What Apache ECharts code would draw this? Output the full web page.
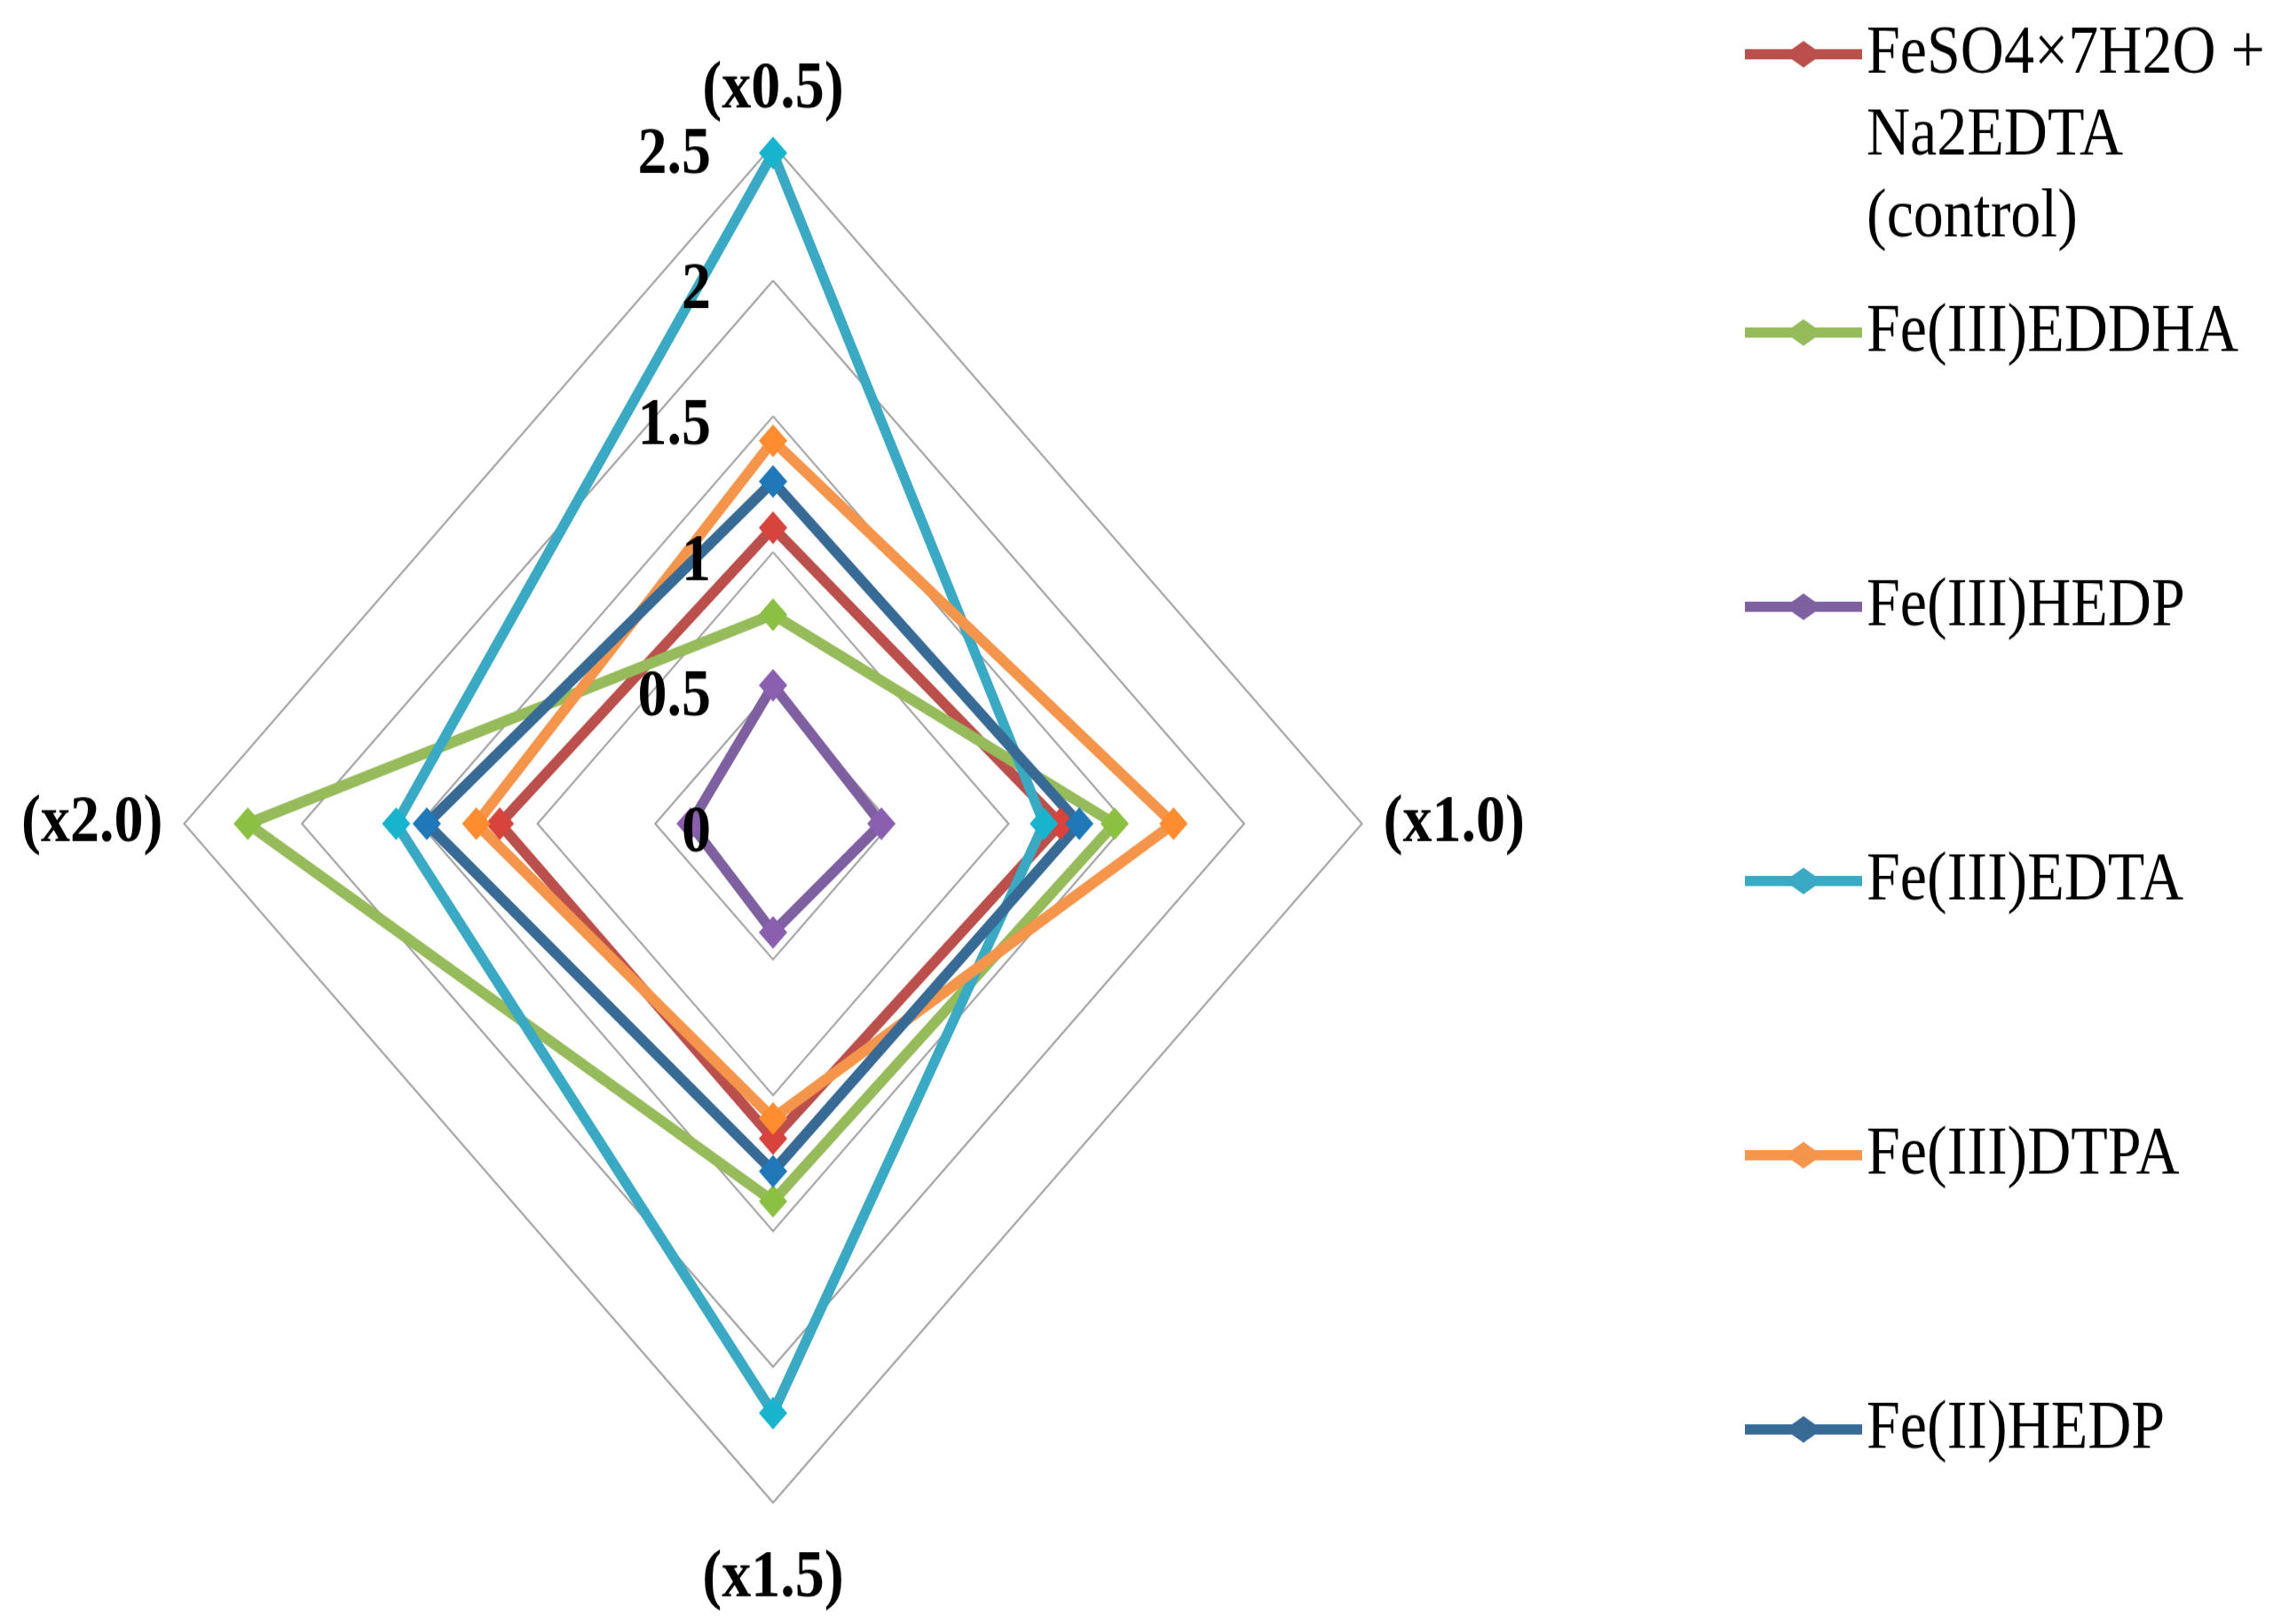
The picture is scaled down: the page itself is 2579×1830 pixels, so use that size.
<!DOCTYPE html>
<html>
<head>
<meta charset="utf-8">
<script src="https://cdn.jsdelivr.net/npm/echarts@6/dist/echarts.min.js"></script>
<style>
  html, body { margin: 0; padding: 0; background: #fff; }
  body { width: 2579px; height: 1830px; overflow: hidden; }
  /* the original picture is stretched vertically, so the chart is drawn flat and scaled */
  #main { width: 2579px; height: 1587px; transform: scaleY(1.153); transform-origin: 0 0; }
</style>
</head>
<body>
<div id="main"></div>
<script>
var categories = ['(x0.5)', '(x1.0)', '(x1.5)', '(x2.0)'];
var axisMax = 2.5;

var seriesNames = [
  'FeSO4×7H2O +\nNa2EDTA\n(control)',
  'Fe(III)EDDHA',
  'Fe(III)HEDP',
  'Fe(III)EDTA',
  'Fe(III)DTPA',
  'Fe(II)HEDP'
];

var controlValues = [1.09, 1.22, 1.16, 1.16];
var eddhaValues   = [0.77, 1.45, 1.39, 2.23];
var hedp3Values   = [0.51, 0.46, 0.40, 0.35];
var edtaValues    = [2.47, 1.15, 2.17, 1.60];
var dtpaValues    = [1.41, 1.70, 1.085, 1.26];
var hedp2Values   = [1.26, 1.30, 1.28, 1.47];

var allValues = [controlValues, eddhaValues, hedp3Values, edtaValues, dtpaValues, hedp2Values];

var lineColors   = ['#bb4f4c', '#96bb5b', '#7e60a1', '#3aa9c3', '#f4954b', '#386a96'];
var markerColors = ['#d8433d', '#8cc043', '#8a5fb0', '#18b3cd', '#ff8c2e', '#1f78b8'];

var serif = '"Liberation Serif", "Times New Roman", serif';

// echarts lays the indicators out counter-clockwise, the original goes clockwise
var order = [0, 3, 2, 1];
var nameGaps = [21, 24, 41, 24];

var chart = echarts.init(document.getElementById('main'));

function makeIndicators(withLabel) {
  return order.map(function (k, i) {
    var ind = { name: categories[k], min: 0, max: axisMax, nameGap: nameGaps[i] };
    if (withLabel && i === 0) {
      ind.axisLabel = { show: true };
    }
    return ind;
  });
}

var series = seriesNames.map(function (n, i) {
  return {
    type: 'radar',
    name: n,
    radarIndex: 0,
    symbol: 'diamond',
    symbolSize: 32,
    lineStyle: { width: 11, color: lineColors[i] },
    itemStyle: { color: markerColors[i] },
    data: [{
      value: order.map(function (k) { return allValues[i][k]; }),
      name: n
    }]
  };
});

var legendBase = {
  orient: 'vertical',
  left: 1966,
  itemWidth: 132,
  itemHeight: 26,
  itemGap: 188,
  padding: 0,
  icon: 'path://M0,8L53,8L66,0L79,8L132,8L132,18L79,18L66,26L53,18L0,18Z',
  itemStyle: { borderWidth: 0 },
  textStyle: {
    fontFamily: serif,
    fontSize: 68,
    lineHeight: 80,
    height: 80,
    color: '#000'
  }
};

var legendData = seriesNames.map(function (n, i) {
  return { name: n, itemStyle: { color: lineColors[i] } };
});

var radarBase = {
  center: [871, 805],
  radius: 663.5,
  shape: 'polygon',
  startAngle: 90,
  splitNumber: 5,
  axisLine: { show: false },
  axisTick: { show: false },
  splitArea: { show: false }
};

var option = {
  backgroundColor: '#ffffff',
  animation: false,
  legend: [
    echarts.util.merge({
      top: -141,
      // first entry runs over three lines below its marker
      formatter: function (name) { return '\n\n' + name; },
      data: legendData.slice(0, 1)
    }, legendBase),
    echarts.util.merge({
      top: 285,
      data: legendData.slice(1)
    }, legendBase)
  ],
  radar: [
    echarts.util.merge({
      z: 1,
      axisName: {
        color: '#000',
        fontFamily: serif,
        fontWeight: 'bold',
        fontSize: 66
      },
      axisLabel: { show: false },
      splitLine: { lineStyle: { color: '#a3a3a3', width: 2 } },
      indicator: makeIndicators(false)
    }, radarBase),
    // tick labels sit on top of the lines
    echarts.util.merge({
      z: 10,
      axisName: { show: false },
      axisLabel: {
        show: false,
        margin: 70,
        formatter: function (v) { return '{v|' + v + '}'; },
        rich: {
          v: {
            color: '#000',
            fontFamily: serif,
            fontWeight: 'bold',
            fontSize: 66,
            padding: [20, 0, 0, 0]
          }
        }
      },
      splitLine: { show: false },
      indicator: makeIndicators(true)
    }, radarBase)
  ],
  series: series
};

chart.setOption(option);
</script>
</body>
</html>
